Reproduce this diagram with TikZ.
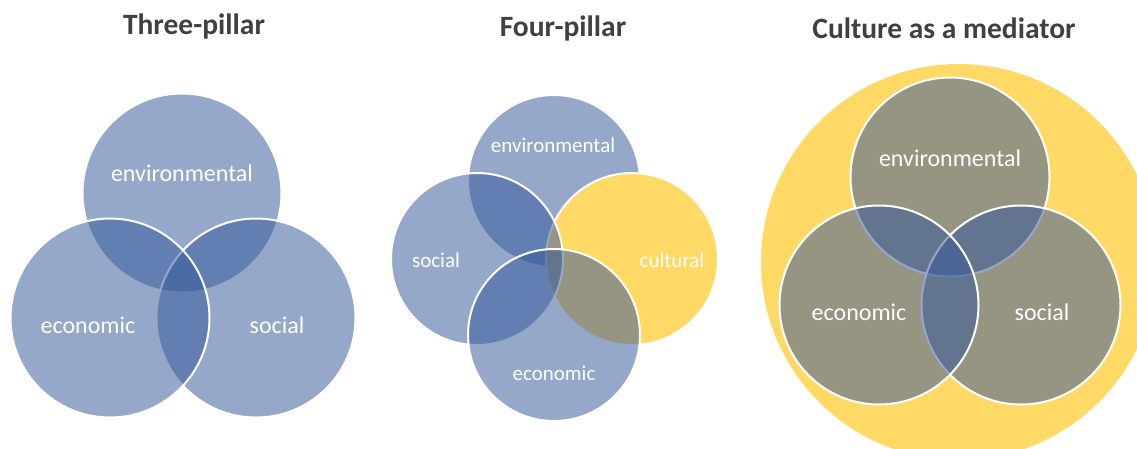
\documentclass[tikz,border=0pt]{standalone}
\usepackage{fontspec}
\setmainfont{Carlito}
\usepackage{tikz}
\definecolor{pillarblue}{RGB}{55,90,154}
\definecolor{cultureyellow}{RGB}{255,217,102}
\definecolor{titlegray}{RGB}{64,64,64}

\begin{document}
\begin{tikzpicture}[x=1pt, y=-1pt,
  pillar/.style={circle, draw=white, line width=2pt, fill=pillarblue, fill opacity=0.53, inner sep=0pt, minimum size=#1},
  culture/.style={circle, draw=white, line width=2pt, fill=cultureyellow, inner sep=0pt, minimum size=#1},
  title/.style={font=\bfseries\fontsize{29.5}{31}\selectfont, text=titlegray},
  lbl/.style={text=white, font=\fontsize{#1}{#1}\selectfont}]
\useasboundingbox (0,0) rectangle (1137,448);
\clip (0,0) rectangle (1137,448);

% Three pillars: environmental on top, social and economic below
\node[title] (t3) at (194, 26) {Three-pillar};
\node[pillar=199] (env3) at (182, 193) {};
\node[pillar=199] (soc3) at (256, 318) {};
\node[pillar=199] (eco3) at (110, 318) {};
\node[lbl=24] (env3-lbl) at (182, 173) {environmental};
\node[lbl=24] (eco3-lbl) at (88, 325) {economic};
\node[lbl=24] (soc3-lbl) at (277, 325) {social};

% Four pillars: culture added as a fourth circle
\node[title] (t4) at (563, 28) {Four-pillar};
\node[pillar=172] (env4) at (554, 181) {};
\node[culture=172] (cul4) at (632, 259) {};
\node[pillar=172] (soc4) at (477, 259) {};
\node[pillar=172] (eco4) at (554, 335) {};
\node[lbl=21] (env4-lbl) at (553, 145) {environmental};
\node[lbl=21] (soc4-lbl) at (436, 260) {social};
\node[lbl=21] (cul4-lbl) at (672, 260) {cultural};
\node[lbl=21] (eco4-lbl) at (554, 373) {economic};

% Culture as a mediator: the three pillars sit inside culture
\node[title] (tm) at (944, 28) {Culture as a mediator};
\node[culture=396, draw=none] (med) at (959, 262) {};
\node[pillar=199] (envm) at (950, 177) {};
\node[pillar=199] (socm) at (1021, 305) {};
\node[pillar=199] (ecom) at (879, 305) {};
\node[lbl=24] (envm-lbl) at (950, 158) {environmental};
\node[lbl=24] (ecom-lbl) at (859, 312) {economic};
\node[lbl=24] (socm-lbl) at (1042, 312) {social};
\end{tikzpicture}
\end{document}
